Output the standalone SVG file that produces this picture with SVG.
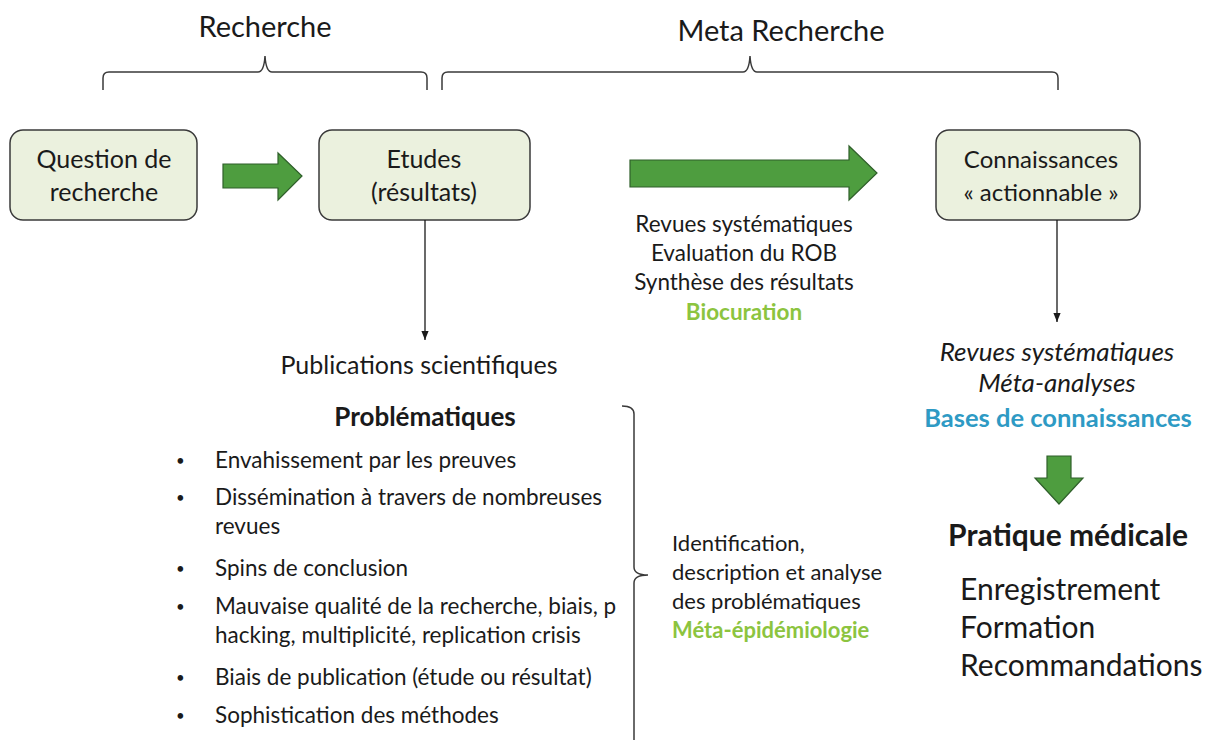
<svg xmlns="http://www.w3.org/2000/svg" width="1206" height="740" viewBox="0 0 1206 740">
<defs>
<style>
text{font-family:Lato,"Liberation Sans",sans-serif;fill:#1a1a1a}
.box{fill:#ebf1de;stroke:#3a3a3a;stroke-width:1.5}
.bl{font-size:25px;text-anchor:middle}
.br{fill:none;stroke:#3a3a3a;stroke-width:1.5}
.garrow{fill:#4e9d3f;stroke:#2f5f2a;stroke-width:1.2}
.mid{font-size:22.5px;text-anchor:middle}
.li{font-size:22.5px}
.ie{font-size:22px}
.bu{font-size:15px}
.green{fill:#8cc43f;font-weight:bold}
.blue{fill:#2e9ac4;font-weight:bold}
</style>
<marker id="ah" viewBox="0 0 10 10" refX="10" refY="5" markerWidth="7" markerHeight="7" orient="auto">
<path d="M0,1 L10,5 L0,9 z" fill="#1a1a1a"/>
</marker>
</defs>
<rect width="1206" height="740" fill="#fff"/>

<g id="labels-top">
<text x="265" y="37" style="font-size:29px;text-anchor:middle">Recherche</text>
<text x="781" y="41" style="font-size:29px;text-anchor:middle">Meta Recherche</text>
<path class="br" d="M103,90 V78 Q103,72 109,72 H258 Q264,72 265,56 Q266,72 272,72 H421 Q427,72 427,78 V90"/>
<path class="br" d="M442,90 V78 Q442,72 448,72 H743 Q749,72 750,56 Q751,72 757,72 H1052 Q1058,72 1058,78 V90"/>
</g>

<g id="node-question">
<rect class="box" x="10" y="130" width="187" height="90" rx="13"/>
<text class="bl" x="104" y="168">Question de</text>
<text class="bl" x="104" y="201">recherche</text>
</g>

<g id="node-etudes">
<rect class="box" x="319" y="130" width="211" height="90" rx="13"/>
<text class="bl" x="424" y="168">Etudes</text>
<text class="bl" x="424" y="201">(résultats)</text>
</g>

<g id="node-connaissances">
<rect class="box" x="936" y="130" width="204" height="90" rx="13"/>
<text class="bl" x="1041" y="168" style="font-size:24px">Connaissances</text>
<text class="bl" x="1041" y="201" style="font-size:24px">« actionnable »</text>
</g>

<g id="connectors">
<path class="garrow" d="M223,164 H278 V153 L302,176 L278,200 V188 H223 Z"/>
<path class="garrow" d="M630,160 H849 V146 L877,173 L849,200 V187 H630 Z"/>
<line x1="425" y1="220" x2="425" y2="340" stroke="#1a1a1a" stroke-width="1.3" marker-end="url(#ah)"/>
<line x1="1057" y1="220" x2="1057" y2="322" stroke="#1a1a1a" stroke-width="1.3" marker-end="url(#ah)"/>
<path class="garrow" d="M1047,456 H1071 V478 H1083 L1059,504 L1035,478 H1047 Z"/>
<path class="br" d="M622,406 Q634,406 634,414 V567 Q634,575 648,575 Q634,575 634,583 V740"/>
</g>

<g id="meta-methods">
<text class="mid" x="744" y="232">Revues systématiques</text>
<text class="mid" x="744" y="261">Evaluation du ROB</text>
<text class="mid" x="744" y="290">Synthèse des résultats</text>
<text class="mid green" x="744" y="320">Biocuration</text>
</g>

<g id="publications">
<text x="419" y="374" style="font-size:25px;text-anchor:middle">Publications scientifiques</text>
</g>

<g id="problematiques">
<text x="425" y="426" style="font-size:26px;font-weight:bold;text-anchor:middle">Problématiques</text>
<g>
<text class="bu" x="176" y="466">•</text><text class="li" x="215" y="468">Envahissement par les preuves</text>
<text class="bu" x="176" y="503">•</text><text class="li" x="215" y="505">Dissémination à travers de nombreuses</text>
<text class="li" x="215" y="534">revues</text>
<text class="bu" x="176" y="574">•</text><text class="li" x="215" y="576">Spins de conclusion</text>
<text class="bu" x="176" y="612">•</text><text class="li" x="215" y="614">Mauvaise qualité de la recherche, biais, p</text>
<text class="li" x="215" y="643">hacking, multiplicité, replication crisis</text>
<text class="bu" x="176" y="683">•</text><text class="li" x="215" y="685">Biais de publication (étude ou résultat)</text>
<text class="bu" x="176" y="721">•</text><text class="li" x="215" y="723">Sophistication des méthodes</text>
</g>
</g>

<g id="meta-epi">
<text class="ie" x="672" y="551">Identification,</text>
<text class="ie" x="672" y="580">description et analyse</text>
<text class="ie" x="672" y="609">des problématiques</text>
<text class="ie green" x="672" y="638">Méta-épidémiologie</text>
</g>

<g id="outputs">
<text x="1057" y="361" style="font-size:26px;font-style:italic;text-anchor:middle">Revues systématiques</text>
<text x="1057" y="392" style="font-size:26px;font-style:italic;text-anchor:middle">Méta-analyses</text>
<text class="blue" x="1058" y="427" style="font-size:25.5px;text-anchor:middle">Bases de connaissances</text>
</g>

<g id="pratique">
<text x="1068" y="546" style="font-size:30px;font-weight:bold;text-anchor:middle">Pratique médicale</text>
<text x="960" y="600" style="font-size:30px">Enregistrement</text>
<text x="960" y="638" style="font-size:30px">Formation</text>
<text x="960" y="676" style="font-size:30px">Recommandations</text>
</g>
</svg>
